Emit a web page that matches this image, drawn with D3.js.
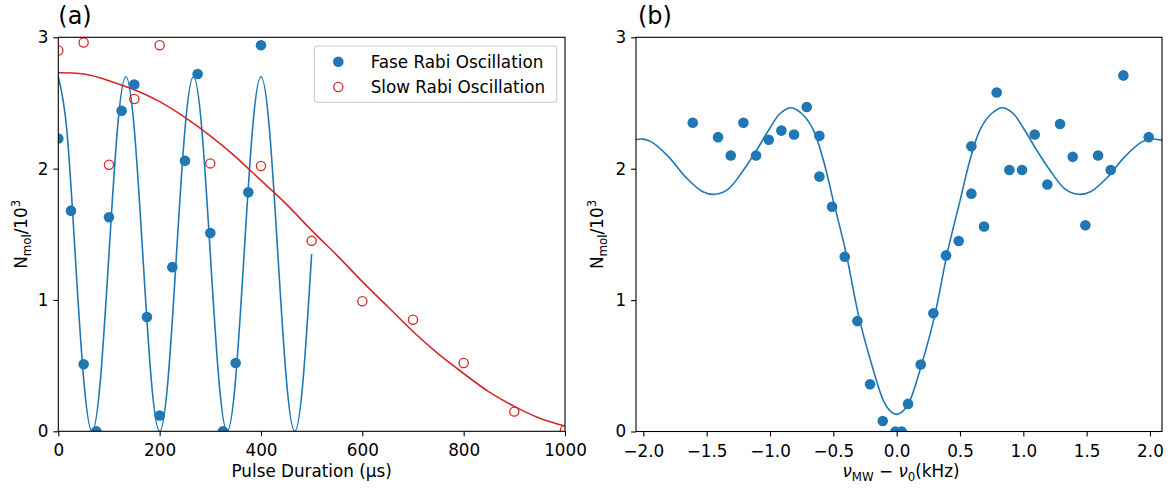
<!DOCTYPE html>
<html><head><meta charset="utf-8">
<script src="https://cdn.jsdelivr.net/npm/d3@7"></script>
<style>
html,body{margin:0;padding:0;background:#fff;}
svg text{font-family:"DejaVu Sans",sans-serif;}
</style></head>
<body><svg id="c" width="1172" height="489"></svg>
<script>
// ---------- DATA ----------
// Panel (a): fast Rabi oscillation (filled) and slow (open)
const fastT = [0,25,50,75,100,125,150,175,200,225,250,275,300,325,350,375,400];
const fastN = [2.23,1.68,0.51,0.00,1.63,2.44,2.64,0.87,0.12,1.25,2.06,2.72,1.51,0.00,0.52,1.82,2.94];
const slowT = [0,50,100,150,200,300,400,500,600,700,800,900,1000];
const slowN = [2.90,2.96,2.03,2.53,2.94,2.04,2.02,1.45,0.99,0.85,0.52,0.15,0.01];
// fit curves
const fastFitT = [0,16.7,33.3,50,66.7,83.3,100,116.7,133.3,150,166.7,183.3,200,216.7,233.3,250,266.7,283.3,300,316.7,333.3,350,366.7,383.3,400,416.7,433.3,450,466.7,483.3,500];
const fastFitN = [2.70,2.30,1.35,0.40,0.00,0.40,1.35,2.30,2.70,2.30,1.35,0.40,0.00,0.40,1.35,2.30,2.70,2.30,1.35,0.40,0.00,0.40,1.35,2.30,2.70,2.30,1.35,0.40,0.00,0.40,1.35];
const slowFitT = [0,50,100,150,200,250,300,350,400,450,500,550,600,650,700,750,800,850,900,950,1000];
const slowFitN = [2.73,2.72,2.67,2.60,2.51,2.39,2.25,2.09,1.91,1.73,1.53,1.34,1.14,0.95,0.76,0.59,0.44,0.30,0.19,0.10,0.04];
const xTicksA = [0,200,400,600,800,1000];
const yTicks = [0,1,2,3];

// Panel (b): spectrum
const detun = [-1.61,-1.41,-1.31,-1.21,-1.11,-1.01,-0.91,-0.81,-0.71,-0.61,-0.61,-0.51,-0.41,-0.31,-0.21,-0.11,-0.01,0.04,0.09,0.19,0.29,0.39,0.49,0.59,0.59,0.69,0.79,0.89,0.99,1.09,1.19,1.29,1.39,1.49,1.59,1.69,1.79,1.99];
const specN = [2.35,2.24,2.10,2.35,2.10,2.22,2.29,2.26,2.47,2.25,1.94,1.71,1.33,0.84,0.36,0.08,0.00,0.00,0.21,0.51,0.90,1.34,1.45,1.81,2.17,1.56,2.58,1.99,1.99,2.26,1.88,2.34,2.09,1.57,2.10,1.99,2.71,2.24];
const specFitX = [-2.10,-2.00,-1.93,-1.80,-1.66,-1.53,-1.435,-1.33,-1.22,-1.10,-1.00,-0.92,-0.835,-0.75,-0.66,-0.58,-0.50,-0.40,-0.30,-0.20,-0.10,-0.05,0.00,0.05,0.10,0.20,0.30,0.40,0.50,0.58,0.66,0.75,0.835,0.92,1.00,1.10,1.22,1.33,1.435,1.53,1.66,1.80,1.93,2.00,2.10];
const specFitN = [2.215,2.225,2.20,2.09,1.93,1.825,1.805,1.845,1.975,2.15,2.31,2.42,2.464,2.42,2.30,2.07,1.755,1.36,0.88,0.52,0.225,0.155,0.13,0.155,0.225,0.52,0.88,1.36,1.755,2.07,2.30,2.42,2.464,2.42,2.31,2.15,1.975,1.845,1.805,1.825,1.93,2.09,2.20,2.225,2.215];
const xTicksB = [-2.0,-1.5,-1.0,-0.5,0.0,0.5,1.0,1.5,2.0];

const legendLabels = ["Fase Rabi Oscillation","Slow Rabi Oscillation"];
const BLUE = "#1f77b4", RED = "#d62728";

// ---------- DRAW ----------
const svg = d3.select("#c");
const FS = 16.8;

function panel(id, box, xDomain, xTicks, xFmt) {
  const x = d3.scaleLinear().domain(xDomain).range([box.l, box.r]);
  const y = d3.scaleLinear().domain([0,3]).range([box.b, box.t]);
  const g = svg.append("g");
  svg.append("clipPath").attr("id", id).append("rect")
    .attr("x", box.l).attr("y", box.t).attr("width", box.r-box.l).attr("height", box.b-box.t);
  const ax = g.append("g").attr("transform", `translate(0,${box.b})`)
    .call(d3.axisBottom(x).tickValues(xTicks).tickFormat(xFmt).tickSize(4.9).tickPadding(4.9).tickSizeOuter(0));
  ax.select(".domain").remove();
  ax.selectAll("text").attr("dy", null).attr("y", 25).style("font-size", FS+"px").attr("fill","#000");
  ax.selectAll("line").attr("stroke","#000").attr("stroke-width",1.1);
  const ay = g.append("g").attr("transform", `translate(${box.l},0)`)
    .call(d3.axisLeft(y).tickValues(yTicks).tickFormat(d3.format("d")).tickSize(4.9).tickPadding(4.9).tickSizeOuter(0));
  ay.select(".domain").remove();
  ay.selectAll("text").style("font-size", FS+"px").attr("fill","#000");
  ay.selectAll("line").attr("stroke","#000").attr("stroke-width",1.1);
  const plot = g.append("g").attr("clip-path", `url(#${id})`);
  return {x, y, g, plot};
}

function frame(g, box) {
  g.append("rect").attr("x", box.l).attr("y", box.t).attr("width", box.r-box.l).attr("height", box.b-box.t)
    .attr("fill","none").attr("stroke","#000").attr("stroke-width",1.1);
}

function ylabel(g, cx, cy) {
  const t = g.append("text").attr("transform", `translate(${cx},${cy}) rotate(-90)`)
    .attr("text-anchor","middle").style("font-size", FS+"px").attr("fill","#000");
  t.append("tspan").text("N");
  t.append("tspan").attr("dy", 3.6).style("font-size", "11.8px").text("mol");
  t.append("tspan").attr("dy", -3.6).text("/10");
  t.append("tspan").attr("dy", -7).style("font-size", "11.8px").text("3");
}

// Panel A
const boxA = {l:58.3, r:565, t:37.3, b:431.3};
const A = panel("clipA", boxA, [0,1000], xTicksA, d3.format("d"));
A.plot.append("path").datum(fastFitT.map((t,i)=>[t,fastFitN[i]]))
  .attr("d", d3.line().x(d=>A.x(d[0])).y(d=>A.y(d[1])).curve(d3.curveNatural)).attr("fill","none").attr("stroke",BLUE).attr("stroke-width",1.6);
A.plot.append("path").datum(slowFitT.map((t,i)=>[t,slowFitN[i]]))
  .attr("d", d3.line().x(d=>A.x(d[0])).y(d=>A.y(d[1])).curve(d3.curveNatural)).attr("fill","none").attr("stroke",RED).attr("stroke-width",1.6);
A.plot.selectAll("circle.f").data(fastT).join("circle").attr("class","f")
  .attr("cx", d=>A.x(d)).attr("cy", (d,i)=>A.y(fastN[i])).attr("r",5.3).attr("fill",BLUE);
A.plot.selectAll("circle.s").data(slowT).join("circle").attr("class","s")
  .attr("cx", d=>A.x(d)).attr("cy", (d,i)=>A.y(slowN[i])).attr("r",4.6).attr("fill","none").attr("stroke",RED).attr("stroke-width",1.3);
frame(A.g, boxA);
A.g.append("text").attr("x",(boxA.l+boxA.r)/2).attr("y",477).attr("text-anchor","middle")
  .style("font-size",FS+"px").text("Pulse Duration (µs)");
ylabel(A.g, 27, (boxA.t+boxA.b)/2);
A.g.append("text").attr("x",boxA.l).attr("y",24).style("font-size","24px").text("(a)");

// legend
const lg = A.g.append("g");
lg.append("rect").attr("x",314.3).attr("y",46).attr("width",242.4).attr("height",56.3).attr("rx",3)
  .attr("fill","#fff").attr("fill-opacity",0.8).attr("stroke","#cccccc").attr("stroke-width",1.1);
lg.append("circle").attr("cx",338.3).attr("cy",61.7).attr("r",5.3).attr("fill",BLUE);
lg.append("circle").attr("cx",338.3).attr("cy",87).attr("r",4.6).attr("fill","none").attr("stroke",RED).attr("stroke-width",1.3);
lg.selectAll("text").data(legendLabels).join("text").attr("x",370.7).attr("y",(d,i)=>67.7+i*25.3)
  .style("font-size",FS+"px").text(d=>d);

// Panel B
const boxB = {l:636, r:1162, t:37.3, b:431.5};
const B = panel("clipB", boxB, [-2.058,2.095], xTicksB, d3.format(".1f"));
B.plot.append("path").datum(specFitX.map((v,i)=>[v,specFitN[i]]))
  .attr("d", d3.line().x(d=>B.x(d[0])).y(d=>B.y(d[1])).curve(d3.curveCatmullRom.alpha(0.5)))
  .attr("fill","none").attr("stroke",BLUE).attr("stroke-width",1.6);
B.plot.selectAll("circle").data(detun).join("circle")
  .attr("cx", d=>B.x(d)).attr("cy",(d,i)=>B.y(specN[i])).attr("r",5.3).attr("fill",BLUE);
frame(B.g, boxB);
ylabel(B.g, 603, (boxB.t+boxB.b)/2);
B.g.append("text").attr("x",boxB.l+2).attr("y",24).style("font-size","24px").text("(b)");
const xl = B.g.append("text").attr("x",(boxB.l+boxB.r)/2+2).attr("y",477).attr("text-anchor","middle").style("font-size",FS+"px");
xl.append("tspan").style("font-style","italic").text("ν");
xl.append("tspan").attr("dy",3.6).style("font-size","11.8px").text("MW");
xl.append("tspan").attr("dy",-3.6).text(" − ");
xl.append("tspan").style("font-style","italic").text("ν");
xl.append("tspan").attr("dy",3.6).style("font-size","11.8px").text("0");
xl.append("tspan").attr("dy",-3.6).text("(kHz)");
</script></body></html>
